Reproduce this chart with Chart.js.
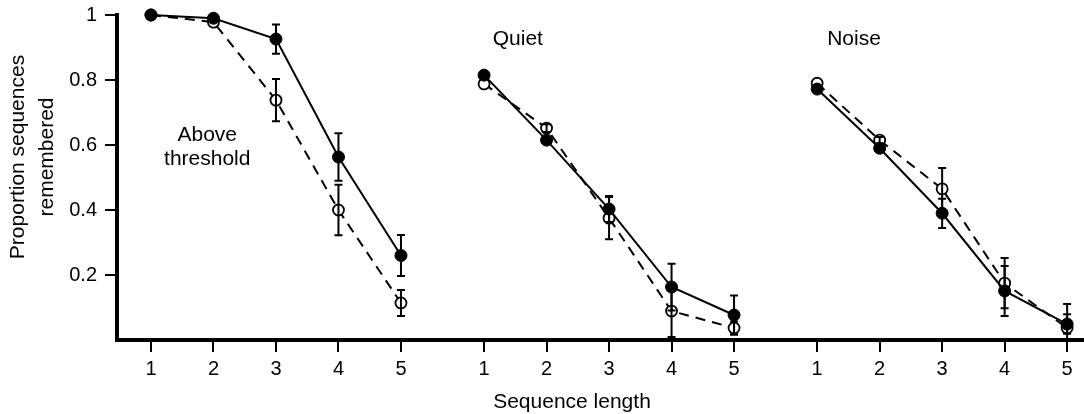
<!DOCTYPE html>
<html lang="en">
<head>
    <meta charset="UTF-8">
    <title>Proportion sequences remembered</title>
    <script src="https://cdn.jsdelivr.net/npm/chart.js"></script>
    <style>
        body { margin: 0; background: #fff; }
        .wrap { width: 1084px; height: 414px; position: relative; }
    </style>
</head>
<body>
    <div class="wrap"><canvas id="chart"></canvas></div>
    <script>
        // Sequence lengths and the three conditions (panels side by side)
        const lengths = [1, 2, 3, 4, 5];
        const groupOffsets = [0, 5.33, 10.66];
        const yTicks = [0.2, 0.4, 0.6, 0.8, 1];

        // Above threshold
        const aboveFilled = [1.0, 0.99, 0.926, 0.563, 0.26];
        const aboveFilledErr = [0, 0, 0.045, 0.073, 0.063];
        const aboveOpen = [1.0, 0.978, 0.738, 0.40, 0.114];
        const aboveOpenErr = [0, 0, 0.065, 0.078, 0.04];

        // Quiet
        const quietFilled = [0.815, 0.615, 0.403, 0.163, 0.077];
        const quietFilledErr = [0, 0, 0.04, 0.072, 0.06];
        const quietOpen = [0.788, 0.652, 0.375, 0.089, 0.037];
        const quietOpenErr = [0, 0.012, 0.065, 0.08, 0.02];

        // Noise
        const noiseFilled = [0.772, 0.59, 0.39, 0.151, 0.049];
        const noiseFilledErr = [0, 0, 0.045, 0.077, 0.03];
        const noiseOpen = [0.79, 0.615, 0.465, 0.175, 0.037];
        const noiseOpenErr = [0, 0.01, 0.064, 0.077, 0.074];

        const FONT = '"Liberation Sans", Arial, Helvetica, sans-serif';

        function points(group, values) {
            return values.map((v, i) => ({ x: lengths[i] + groupOffsets[group], y: v }));
        }

        function filledSet(group, values, errs) {
            return {
                data: points(group, values),
                errors: errs,
                borderColor: '#000',
                borderWidth: 2,
                pointRadius: 6,
                pointBackgroundColor: '#000',
                pointBorderColor: '#000',
                pointBorderWidth: 1,
                clip: false
            };
        }

        function openSet(group, values, errs) {
            return {
                data: points(group, values),
                errors: errs,
                borderColor: '#000',
                borderWidth: 2,
                borderDash: [10, 7],
                pointRadius: 5.5,
                pointBackgroundColor: '#fff',
                pointBorderColor: '#000',
                pointBorderWidth: 1.8,
                clip: false
            };
        }

        // Error bars drawn from the scales after the lines and markers
        const errorBars = {
            id: 'errorBars',
            afterDatasetsDraw(chart) {
                const ctx = chart.ctx;
                const xs = chart.scales.x, ys = chart.scales.y;
                ctx.save();
                ctx.strokeStyle = '#000';
                ctx.lineWidth = 2;
                chart.data.datasets.forEach(ds => {
                    ds.data.forEach((p, i) => {
                        const e = ds.errors[i];
                        if (!e) return;
                        const px = xs.getPixelForValue(p.x);
                        const top = ys.getPixelForValue(p.y + e);
                        const bot = ys.getPixelForValue(Math.max(0, p.y - e));
                        ctx.beginPath();
                        ctx.moveTo(px, top); ctx.lineTo(px, bot);
                        ctx.moveTo(px - 4, top); ctx.lineTo(px + 4, top);
                        ctx.moveTo(px - 4, bot); ctx.lineTo(px + 4, bot);
                        ctx.stroke();
                    });
                });
                ctx.restore();
            }
        };

        // Panel labels and axis titles
        const labels = {
            id: 'labels',
            afterDraw(chart) {
                const ctx = chart.ctx;
                const xs = chart.scales.x, ys = chart.scales.y;
                ctx.save();
                ctx.fillStyle = '#000';
                ctx.font = '21px ' + FONT;
                ctx.textAlign = 'center';
                ctx.textBaseline = 'middle';
                ctx.fillText('Above', xs.getPixelForValue(1.9), ys.getPixelForValue(0.63));
                ctx.fillText('threshold', xs.getPixelForValue(1.9), ys.getPixelForValue(0.557));
                ctx.fillText('Quiet', xs.getPixelForValue(6.87), ys.getPixelForValue(0.926));
                ctx.fillText('Noise', xs.getPixelForValue(12.25), ys.getPixelForValue(0.926));
                ctx.fillText('Sequence length', 572, 402);
                ctx.translate(0, 157);
                ctx.rotate(-Math.PI / 2);
                ctx.fillText('Proportion sequences', 0, 18);
                ctx.fillText('remembered', 0, 47);
                ctx.restore();
            }
        };

        const tickLabels = groupOffsets.flatMap(() => lengths.map(String));
        const xTickValues = groupOffsets.flatMap(g => lengths.map(l => l + g));

        new Chart(document.getElementById('chart'), {
            type: 'line',
            data: {
                datasets: [
                    filledSet(0, aboveFilled, aboveFilledErr),
                    openSet(0, aboveOpen, aboveOpenErr),
                    filledSet(1, quietFilled, quietFilledErr),
                    openSet(1, quietOpen, quietOpenErr),
                    filledSet(2, noiseFilled, noiseFilledErr),
                    openSet(2, noiseOpen, noiseOpenErr)
                ]
            },
            options: {
                responsive: true,
                maintainAspectRatio: false,
                animation: false,
                layout: { autoPadding: false, padding: { top: 15, right: 0, left: 0, bottom: 0 } },
                plugins: { legend: { display: false }, tooltip: { enabled: false } },
                scales: {
                    x: {
                        type: 'linear',
                        min: 0.456,
                        max: 15.93,
                        afterFit(scale) { scale.height = 74; scale.paddingLeft = 0; scale.paddingRight = 0; },
                        afterBuildTicks(scale) { scale.ticks = xTickValues.map(v => ({ value: v })); },
                        ticks: {
                            color: '#000',
                            font: { family: FONT, size: 20 },
                            padding: 5,
                            autoSkip: false,
                            maxRotation: 0,
                            callback: (v, i) => tickLabels[i]
                        },
                        grid: { drawOnChartArea: false, drawTicks: true, tickLength: 12, color: '#000', lineWidth: 2 },
                        border: { display: true, color: '#000', width: 4 }
                    },
                    y: {
                        min: 0,
                        max: 1,
                        afterFit(scale) { scale.width = 117; scale.paddingTop = 0; scale.paddingBottom = 0; },
                        afterBuildTicks(scale) { scale.ticks = yTicks.map(v => ({ value: v })); },
                        ticks: {
                            color: '#000',
                            font: { family: FONT, size: 20 },
                            padding: 8,
                            callback: v => String(v)
                        },
                        grid: { drawOnChartArea: false, drawTicks: true, tickLength: 12, color: '#000', lineWidth: 2 },
                        border: { display: true, color: '#000', width: 4 }
                    }
                }
            },
            plugins: [errorBars, labels]
        });
    </script>
</body>
</html>
